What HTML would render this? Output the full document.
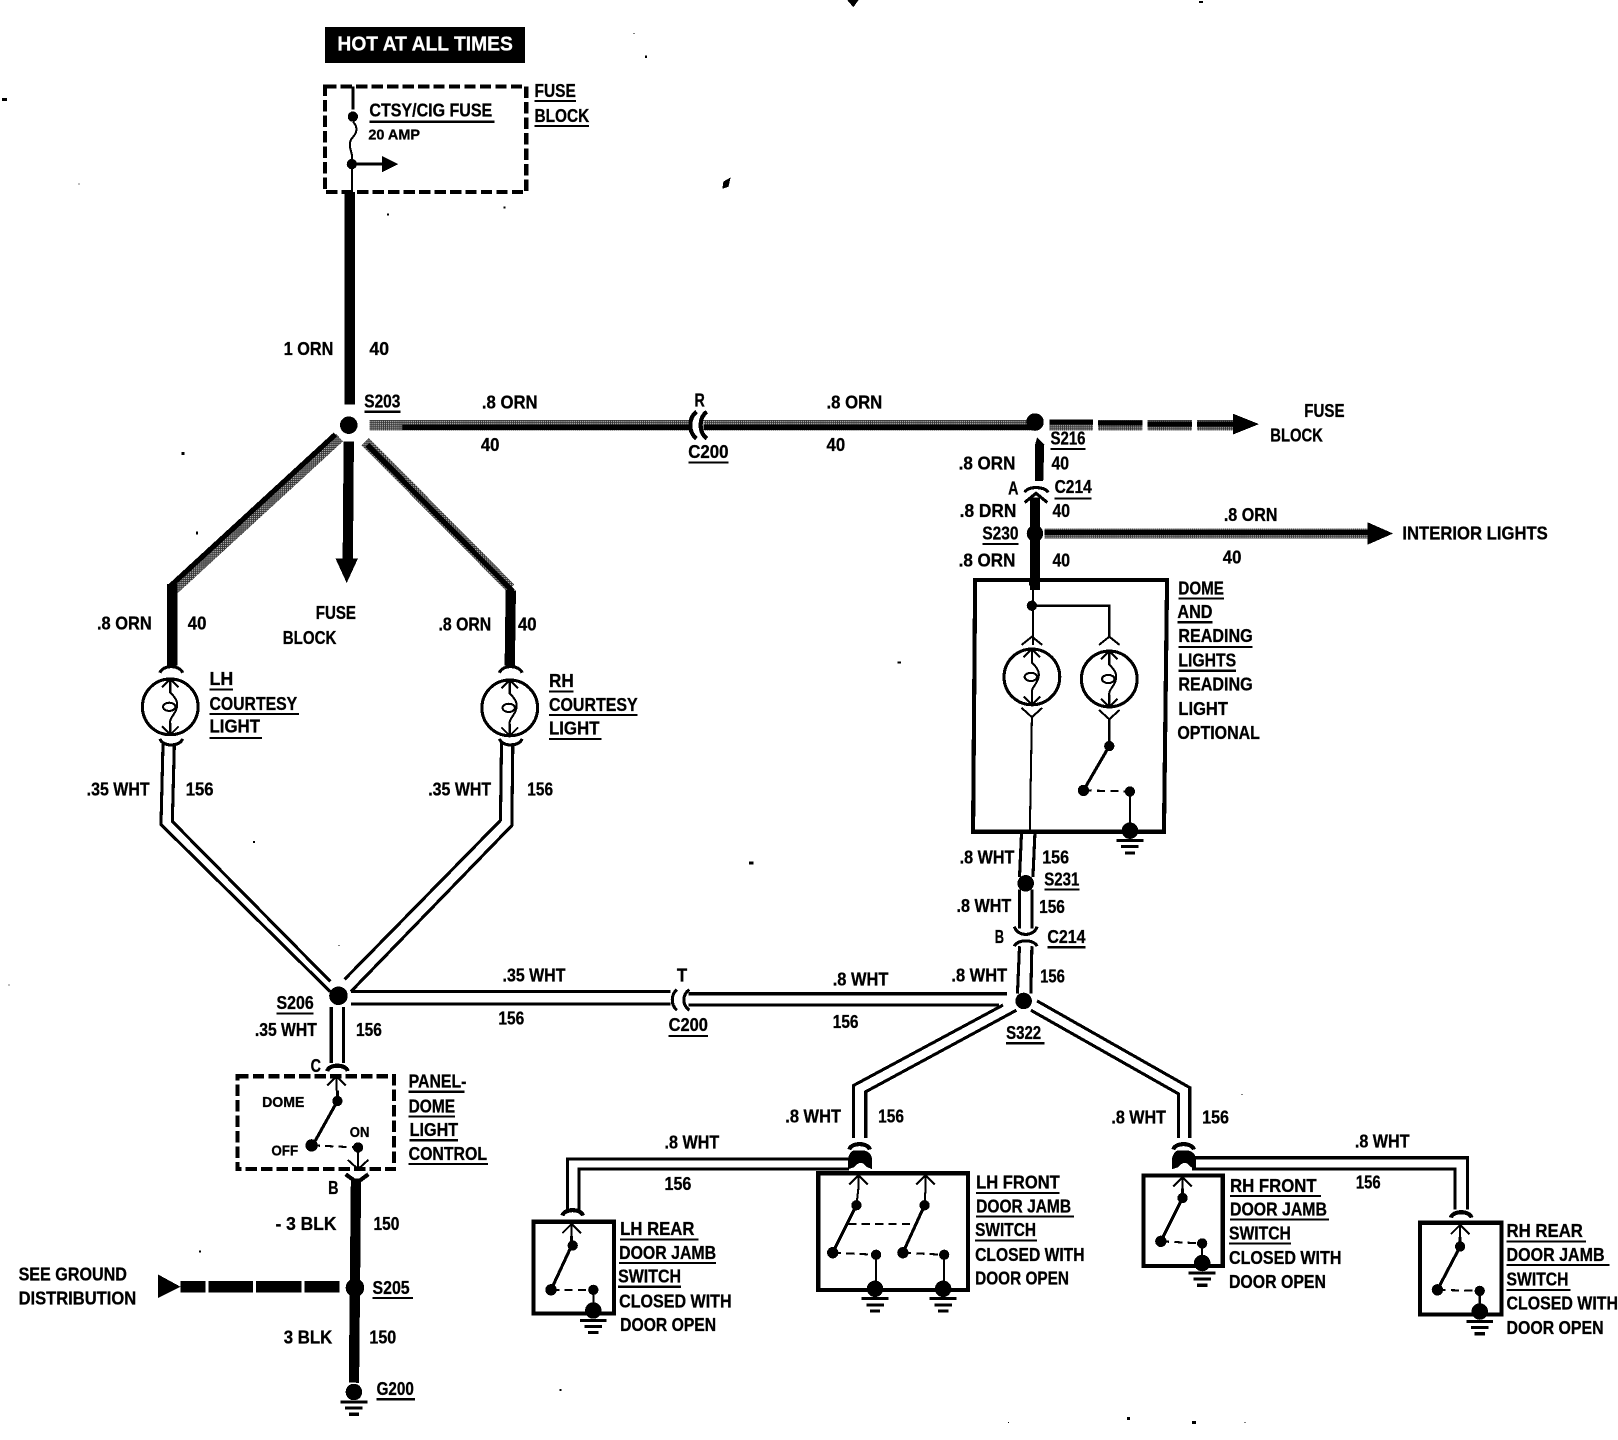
<!DOCTYPE html>
<html><head><meta charset="utf-8"><title>Courtesy and Dome Light Wiring Diagram</title>
<style>
html,body{margin:0;padding:0;background:#fff}
svg{display:block}
text{font-family:"Liberation Sans Narrow","Liberation Sans",sans-serif;font-weight:bold;font-size:17.5px;fill:#000;stroke:#000;stroke-width:.3}
.s{font-size:14.5px}
.t{fill:#fff;stroke:#fff;font-size:20px}
.w{fill:none;stroke:#000;stroke-width:3}
.th{fill:none;stroke:#000;stroke-width:2}
.b{fill:none;stroke:#000;stroke-width:10}
.g{fill:none;stroke:url(#dith);stroke-width:10}
.i{fill:none;stroke:#000;stroke-width:5}
.u{fill:none;stroke:#000;stroke-width:2}
.box{fill:none;stroke:#000;stroke-width:4}
.dash{fill:none;stroke:#000;stroke-width:4;stroke-dasharray:11 4}
</style></head><body>
<svg xmlns="http://www.w3.org/2000/svg" width="1618" height="1440" viewBox="0 0 1568 1395.5" shape-rendering="crispEdges">
<defs>
<pattern id="dith" width="2" height="2" patternUnits="userSpaceOnUse"><rect width="2" height="2" fill="#333"/><rect width="1" height="1" fill="#aaa"/></pattern>
<g id="lamp"><circle r="27" fill="none" stroke="#000" stroke-width="3"/>
<path d="M0-27V-14C6-8 8-4 6 2C4 8-1 11 0 16V27M-8-19L0-27L8-19M-8 19L0 27L8 19" fill="none" stroke="#000" stroke-width="2"/>
<ellipse cx="-1" cy="0" rx="6" ry="4" fill="none" stroke="#000" stroke-width="2"/></g>
<g id="gnd"><circle r="8"/><path d="M-13 9.5H13M-8.5 15.5H8.5M-5 21.5H5" stroke="#000" stroke-width="3" fill="none"/></g>
<path id="up" d="M0 14V0M-9 9L0 0L9 9" fill="none" stroke="#000" stroke-width="2"/>
<path id="cap" d="M-10 6C-8-1 8-1 10 6" fill="none" stroke="#000" stroke-width="4"/>
</defs>
<rect width="1568" height="1396" fill="#fff"/>

<!-- header -->
<rect x="315" y="26" width="194" height="35" fill="#000"/>
<text class="t" x="327" y="49" textLength="170" lengthAdjust="spacingAndGlyphs">HOT AT ALL TIMES</text>

<!-- fuse box -->
<rect class="dash" x="315" y="84" width="195" height="102"/>
<path class="w" d="M342 84V106"/>
<circle cx="342" cy="113" r="5"/><circle cx="341" cy="159" r="5"/>
<path class="th" d="M342 118C348 124 345 130 341 134C337 140 340 144 341 150V186"/>
<path class="w" d="M341 159H372"/><path d="M370 151L386 159L370 167Z"/>

<!-- main hot wires -->
<path class="b" d="M339 186V392"/>
<circle cx="338" cy="412" r="8.5"/>
<path class="g" d="M358 412H668M682 412H1000"/><path class="i" d="M390 414H668M682 414H1000"/>
<path d="M675 399C667 405 667 419 675 425M685 399C677 405 677 419 685 425" stroke="#000" stroke-width="4" fill="none"/>
<circle cx="1003" cy="409" r="8.5"/>
<path class="g" d="M1017 412H1059M1064 412H1107M1112 412H1155M1160 412H1198"/>
<path class="i" d="M1017 409H1059M1064 410H1107M1112 411H1155M1160 411H1198"/>
<path d="M1195 401L1220 411L1195 421Z"/>

<!-- S216 down -->
<path d="M1005 424L1012 431L1011 466H1003L1003 431Z"/>
<path d="M993 477C997 471 1011 471 1016 477" fill="none" stroke="#000" stroke-width="3"/>
<path d="M993 487L1004 478L1015 487" fill="none" stroke="#000" stroke-width="3"/>
<path class="b" d="M1003 482V572"/>
<circle cx="1003" cy="517" r="8"/>
<path class="g" d="M1012 517H1328"/><path class="i" d="M1012 516H1328"/>
<path d="M1325 506L1350 517L1325 528Z"/>

<!-- dome box -->
<path class="box" d="M945 562H1131L1128 806H943Z"/>
<circle cx="1002" cy="565" r="5"/>
<path class="th" d="M1001 570V625M1000 587H1075V618"/>
<circle cx="1000" cy="587" r="5"/>
<path class="th" d="M990 625L1000 617L1010 625M1065 625L1075 617L1085 625"/>
<use href="#lamp" x="1000" y="656"/>
<use href="#lamp" x="1075" y="658"/>
<path class="th" d="M990 686L1000 695L1010 686M1065 688L1075 697L1085 688"/>
<path class="th" d="M1000 695L998 806M1075 697V723M1095 767V800"/>
<circle cx="1075" cy="723" r="5"/>
<path class="w" d="M1075 723L1050 766"/>
<circle cx="1050" cy="766" r="5.5"/>
<path class="th" stroke-dasharray="8 5" d="M1050 766L1095 767"/>
<circle cx="1095" cy="767" r="5"/>
<use href="#gnd" x="1095" y="805"/>

<!-- S231, C214 B -->
<path class="w" d="M990 806L988 850M1003 806L1001 850"/>
<circle cx="994" cy="856" r="8"/>
<path class="w" d="M988 862L988 900M1000 862V900"/>
<path d="M983 898C986 908 1002 908 1005 898" fill="none" stroke="#000" stroke-width="3"/>
<path d="M983 917C986 910 1002 910 1005 917" fill="none" stroke="#000" stroke-width="3"/>
<path class="w" d="M988 917L986 963M1000 917L999 963"/>
<circle cx="992" cy="970" r="8"/>

<!-- hot diagonals -->
<path class="g" d="M169 571L329 424M495 570L354 428"/>
<path class="i" d="M165 568L325 421M497 573L356 431"/>
<path class="b" d="M167 566V645M495 572L494 645M338 428L337 545"/>
<path d="M325 541H347L336 565Z"/>
<path d="M155 652C158 644 174 644 177 652M484 652C487 644 503 644 506 652" fill="none" stroke="#000" stroke-width="3"/>
<use href="#lamp" x="165" y="685"/>
<use href="#lamp" x="494" y="686"/>
<path d="M155 716C158 724 174 724 177 716M484 716C487 724 503 724 506 716" fill="none" stroke="#000" stroke-width="3"/>

<!-- white diagonals -->
<path class="w" d="M158 720L156 799L320 961M169 720L167 796L320 951M486 720L485 795L334 949M497 720L496 800L340 961"/>
<circle cx="328" cy="965" r="9"/>
<path class="w" d="M321 976V1030M333 976V1030"/>
<use href="#cap" x="327" y="1032"/>

<!-- horizontal white -->
<path class="w" d="M340 961H650M340 973H650M667 963H976M667 974H968"/>
<path d="M656 959C650 964 650 974 656 979M668 959C661 964 661 974 668 979" fill="none" stroke="#000" stroke-width="3"/>

<!-- panel dome switch -->
<rect class="dash" x="230" y="1043" width="152" height="90"/>
<use href="#up" x="326" y="1043"/>
<circle cx="327" cy="1067" r="5"/>
<path class="w" d="M327 1057V1067L303 1110"/>
<circle cx="302" cy="1110" r="6"/>
<path class="th" stroke-dasharray="8 5" d="M302 1110L347 1112"/>
<circle cx="347" cy="1112" r="5"/>
<path class="th" d="M347 1112V1133M337 1124L347 1133L357 1124"/>
<path d="M335 1138L346 1146L357 1138" fill="none" stroke="#000" stroke-width="4"/>
<path class="b" d="M345 1142L343 1340"/>
<circle cx="344" cy="1248" r="9"/>
<path d="M175 1247H199M202 1247H245M248 1247H292M295 1247H329" stroke="#000" stroke-width="11" fill="none"/>
<path d="M153 1235L175 1247L153 1258Z"/>
<use href="#gnd" x="343" y="1349"/>

<!-- right bottom branches -->
<path class="w" d="M972 974L827 1052V1103M985 979L839 1058V1103"/>
<path class="w" d="M1005 970L1153 1054V1103M999 979L1142 1060V1103"/>
<use href="#cap" x="833" y="1108"/><use href="#cap" x="1147" y="1108"/>
<path d="M822 1133V1122Q824 1115 828 1115H838Q844 1117 845 1122V1133L840 1131Q834 1123 828 1131ZM1136 1133V1122Q1138 1115 1142 1115H1152Q1158 1117 1159 1122V1133L1154 1131Q1148 1123 1142 1131Z"/>
<path class="w" d="M823 1123H550V1172M823 1133H561V1172"/>
<use href="#cap" x="555" y="1172"/>
<path class="w" d="M1155 1122H1422V1172M1155 1133H1410V1172"/>
<use href="#cap" x="1416" y="1174"/>

<!-- LH rear -->
<rect class="box" x="517" y="1184" width="78" height="89"/>
<use href="#up" x="554" y="1186"/>
<circle cx="555" cy="1207" r="5"/>
<path class="w" d="M554 1198V1207L534 1250"/>
<circle cx="534" cy="1250" r="5.5"/>
<path class="th" stroke-dasharray="8 5" d="M534 1250H575"/>
<circle cx="575" cy="1250" r="5"/>
<path class="th" d="M575 1250V1265"/>
<use href="#gnd" x="575" y="1270"/>

<!-- LH front -->
<rect class="box" x="793" y="1137" width="145" height="113"/>
<use href="#up" x="832" y="1139"/><use href="#up" x="897" y="1139"/>
<path class="th" d="M832 1150L830 1168M897 1150L896 1168"/>
<circle cx="830" cy="1168" r="5"/><circle cx="896" cy="1168" r="5"/>
<path class="w" d="M830 1168L807 1214M896 1168L875 1214"/>
<circle cx="807" cy="1214" r="5.5"/><circle cx="875" cy="1214" r="5.5"/>
<path class="th" stroke-dasharray="8 5" d="M822 1186H887M807 1214L849 1216M875 1214L915 1216"/>
<circle cx="849" cy="1216" r="5"/><circle cx="915" cy="1216" r="5"/>
<path class="th" d="M849 1216V1242M915 1216V1242"/>
<use href="#gnd" x="848" y="1249"/><use href="#gnd" x="914" y="1249"/>

<!-- RH front -->
<rect class="box" x="1108" y="1139" width="77" height="88"/>
<use href="#up" x="1146" y="1141"/>
<circle cx="1146" cy="1161" r="5"/>
<path class="w" d="M1146 1152V1161L1125 1203"/>
<circle cx="1125" cy="1203" r="5.5"/>
<path class="th" stroke-dasharray="8 5" d="M1125 1203L1165 1205"/>
<circle cx="1165" cy="1205" r="5"/>
<path class="th" d="M1165 1205V1218"/>
<use href="#gnd" x="1165" y="1224"/>

<!-- RH rear -->
<rect class="box" x="1376" y="1185" width="79" height="89"/>
<use href="#up" x="1415" y="1187"/>
<circle cx="1415" cy="1208" r="5"/>
<path class="w" d="M1415 1199V1208L1393 1250"/>
<circle cx="1393" cy="1250" r="5.5"/>
<path class="th" stroke-dasharray="8 5" d="M1393 1250L1434 1251"/>
<circle cx="1434" cy="1251" r="5"/>
<path class="th" d="M1434 1251V1266"/>
<use href="#gnd" x="1434" y="1271"/>

<!-- underlines -->
<path class="u" d="M518 98H558M518 122H571M358 118H479M353 399H388M667 448H706M1018 435H1052M1022 483H1058M952 527H987M1142 580H1186M1141 603H1175M1142 627H1214M1142 650H1198M203 668H226M203 692H290M203 715H254M532 670H556M532 693H618M532 716H583M1012 862H1046M1015 918H1052M648 1004H686M268 982H304M975 1011H1012M396 1058H450M396 1082H441M397 1105H444M396 1128H473M361 1258H400M365 1356H402M601 1201H677M600 1224H694M599 1247H660M946 1156H1027M946 1179H1041M945 1202H1005M1192 1159H1280M1192 1182H1288M1191 1205H1251M1460 1203H1537M1460 1226H1560M1460 1250H1522"/>

<!-- labels -->
<g>
<text x="518" y="94" textLength="40" lengthAdjust="spacingAndGlyphs">FUSE</text>
<text x="518" y="118" textLength="53" lengthAdjust="spacingAndGlyphs">BLOCK</text>
<text x="358" y="113" textLength="119" lengthAdjust="spacingAndGlyphs">CTSY/CIG FUSE</text>
<text class="s" x="357" y="135" textLength="50" lengthAdjust="spacingAndGlyphs">20 AMP</text>
<text x="275" y="344" textLength="48" lengthAdjust="spacingAndGlyphs">1 ORN</text>
<text x="358" y="344" textLength="19" lengthAdjust="spacingAndGlyphs">40</text>
<text x="353" y="395" textLength="35" lengthAdjust="spacingAndGlyphs">S203</text>
<text x="467" y="396" textLength="54" lengthAdjust="spacingAndGlyphs">.8 ORN</text>
<text x="466" y="437" textLength="18" lengthAdjust="spacingAndGlyphs">40</text>
<text x="673" y="394" textLength="10" lengthAdjust="spacingAndGlyphs">R</text>
<text x="667" y="444" textLength="39" lengthAdjust="spacingAndGlyphs">C200</text>
<text x="801" y="396" textLength="54" lengthAdjust="spacingAndGlyphs">.8 ORN</text>
<text x="801" y="437" textLength="18" lengthAdjust="spacingAndGlyphs">40</text>
<text x="1264" y="404" textLength="39" lengthAdjust="spacingAndGlyphs">FUSE</text>
<text x="1231" y="428" textLength="51" lengthAdjust="spacingAndGlyphs">BLOCK</text>
<text x="1018" y="431" textLength="34" lengthAdjust="spacingAndGlyphs">S216</text>
<text x="929" y="455" textLength="55" lengthAdjust="spacingAndGlyphs">.8 ORN</text>
<text x="1019" y="455" textLength="17" lengthAdjust="spacingAndGlyphs">40</text>
<text x="977" y="479" textLength="10" lengthAdjust="spacingAndGlyphs">A</text>
<text x="1022" y="478" textLength="36" lengthAdjust="spacingAndGlyphs">C214</text>
<text x="930" y="501" textLength="55" lengthAdjust="spacingAndGlyphs">.8 DRN</text>
<text x="1020" y="501" textLength="17" lengthAdjust="spacingAndGlyphs">40</text>
<text x="952" y="523" textLength="35" lengthAdjust="spacingAndGlyphs">S230</text>
<text x="929" y="549" textLength="55" lengthAdjust="spacingAndGlyphs">.8 ORN</text>
<text x="1020" y="549" textLength="17" lengthAdjust="spacingAndGlyphs">40</text>
<text x="1186" y="505" textLength="52" lengthAdjust="spacingAndGlyphs">.8 ORN</text>
<text x="1359" y="523" textLength="141" lengthAdjust="spacingAndGlyphs">INTERIOR LIGHTS</text>
<text x="1185" y="546" textLength="18" lengthAdjust="spacingAndGlyphs">40</text>
<text x="1142" y="576" textLength="44" lengthAdjust="spacingAndGlyphs">DOME</text>
<text x="1141" y="599" textLength="34" lengthAdjust="spacingAndGlyphs">AND</text>
<text x="1142" y="622" textLength="72" lengthAdjust="spacingAndGlyphs">READING</text>
<text x="1142" y="646" textLength="56" lengthAdjust="spacingAndGlyphs">LIGHTS</text>
<text x="1142" y="669" textLength="72" lengthAdjust="spacingAndGlyphs">READING</text>
<text x="1142" y="693" textLength="48" lengthAdjust="spacingAndGlyphs">LIGHT</text>
<text x="1141" y="716" textLength="80" lengthAdjust="spacingAndGlyphs">OPTIONAL</text>
<text x="94" y="610" textLength="53" lengthAdjust="spacingAndGlyphs">.8 ORN</text>
<text x="182" y="610" textLength="18" lengthAdjust="spacingAndGlyphs">40</text>
<text x="306" y="600" textLength="39" lengthAdjust="spacingAndGlyphs">FUSE</text>
<text x="274" y="624" textLength="52" lengthAdjust="spacingAndGlyphs">BLOCK</text>
<text x="425" y="611" textLength="51" lengthAdjust="spacingAndGlyphs">.8 ORN</text>
<text x="502" y="611" textLength="18" lengthAdjust="spacingAndGlyphs">40</text>
<text x="203" y="664" textLength="23" lengthAdjust="spacingAndGlyphs">LH</text>
<text x="203" y="688" textLength="85" lengthAdjust="spacingAndGlyphs">COURTESY</text>
<text x="203" y="710" textLength="49" lengthAdjust="spacingAndGlyphs">LIGHT</text>
<text x="532" y="666" textLength="24" lengthAdjust="spacingAndGlyphs">RH</text>
<text x="532" y="689" textLength="86" lengthAdjust="spacingAndGlyphs">COURTESY</text>
<text x="532" y="712" textLength="49" lengthAdjust="spacingAndGlyphs">LIGHT</text>
<text x="84" y="771" textLength="61" lengthAdjust="spacingAndGlyphs">.35 WHT</text>
<text x="180" y="771" textLength="27" lengthAdjust="spacingAndGlyphs">156</text>
<text x="415" y="771" textLength="61" lengthAdjust="spacingAndGlyphs">.35 WHT</text>
<text x="511" y="771" textLength="25" lengthAdjust="spacingAndGlyphs">156</text>
<text x="930" y="837" textLength="53" lengthAdjust="spacingAndGlyphs">.8 WHT</text>
<text x="1010" y="837" textLength="26" lengthAdjust="spacingAndGlyphs">156</text>
<text x="1012" y="858" textLength="34" lengthAdjust="spacingAndGlyphs">S231</text>
<text x="927" y="884" textLength="53" lengthAdjust="spacingAndGlyphs">.8 WHT</text>
<text x="1007" y="885" textLength="25" lengthAdjust="spacingAndGlyphs">156</text>
<text x="964" y="914" textLength="9" lengthAdjust="spacingAndGlyphs">B</text>
<text x="1015" y="914" textLength="37" lengthAdjust="spacingAndGlyphs">C214</text>
<text x="487" y="951" textLength="61" lengthAdjust="spacingAndGlyphs">.35 WHT</text>
<text x="656" y="951" textLength="10" lengthAdjust="spacingAndGlyphs">T</text>
<text x="807" y="955" textLength="54" lengthAdjust="spacingAndGlyphs">.8 WHT</text>
<text x="922" y="951" textLength="54" lengthAdjust="spacingAndGlyphs">.8 WHT</text>
<text x="1008" y="952" textLength="24" lengthAdjust="spacingAndGlyphs">156</text>
<text x="483" y="993" textLength="25" lengthAdjust="spacingAndGlyphs">156</text>
<text x="648" y="999" textLength="38" lengthAdjust="spacingAndGlyphs">C200</text>
<text x="807" y="996" textLength="25" lengthAdjust="spacingAndGlyphs">156</text>
<text x="268" y="978" textLength="36" lengthAdjust="spacingAndGlyphs">S206</text>
<text x="247" y="1004" textLength="60" lengthAdjust="spacingAndGlyphs">.35 WHT</text>
<text x="345" y="1004" textLength="25" lengthAdjust="spacingAndGlyphs">156</text>
<text x="975" y="1007" textLength="34" lengthAdjust="spacingAndGlyphs">S322</text>
<text x="301" y="1039" textLength="10" lengthAdjust="spacingAndGlyphs">C</text>
<text x="396" y="1054" textLength="56" lengthAdjust="spacingAndGlyphs">PANEL-</text>
<text x="396" y="1078" textLength="45" lengthAdjust="spacingAndGlyphs">DOME</text>
<text x="397" y="1101" textLength="47" lengthAdjust="spacingAndGlyphs">LIGHT</text>
<text x="396" y="1124" textLength="76" lengthAdjust="spacingAndGlyphs">CONTROL</text>
<text class="s" x="254" y="1073" textLength="41" lengthAdjust="spacingAndGlyphs">DOME</text>
<text class="s" x="339" y="1102" textLength="19" lengthAdjust="spacingAndGlyphs">ON</text>
<text class="s" x="263" y="1120" textLength="26" lengthAdjust="spacingAndGlyphs">OFF</text>
<text x="318" y="1157" textLength="10" lengthAdjust="spacingAndGlyphs">B</text>
<text x="267" y="1192" textLength="59" lengthAdjust="spacingAndGlyphs">- 3 BLK</text>
<text x="362" y="1192" textLength="25" lengthAdjust="spacingAndGlyphs">150</text>
<text x="18" y="1241" textLength="105" lengthAdjust="spacingAndGlyphs">SEE GROUND</text>
<text x="18" y="1264" textLength="114" lengthAdjust="spacingAndGlyphs">DISTRIBUTION</text>
<text x="361" y="1254" textLength="36" lengthAdjust="spacingAndGlyphs">S205</text>
<text x="275" y="1302" textLength="47" lengthAdjust="spacingAndGlyphs">3 BLK</text>
<text x="358" y="1302" textLength="26" lengthAdjust="spacingAndGlyphs">150</text>
<text x="365" y="1352" textLength="36" lengthAdjust="spacingAndGlyphs">G200</text>
<text x="644" y="1113" textLength="53" lengthAdjust="spacingAndGlyphs">.8 WHT</text>
<text x="644" y="1153" textLength="26" lengthAdjust="spacingAndGlyphs">156</text>
<text x="761" y="1088" textLength="54" lengthAdjust="spacingAndGlyphs">.8 WHT</text>
<text x="851" y="1088" textLength="25" lengthAdjust="spacingAndGlyphs">156</text>
<text x="1077" y="1089" textLength="53" lengthAdjust="spacingAndGlyphs">.8 WHT</text>
<text x="1165" y="1089" textLength="26" lengthAdjust="spacingAndGlyphs">156</text>
<text x="1313" y="1112" textLength="53" lengthAdjust="spacingAndGlyphs">.8 WHT</text>
<text x="1314" y="1152" textLength="24" lengthAdjust="spacingAndGlyphs">156</text>
<text x="601" y="1197" textLength="72" lengthAdjust="spacingAndGlyphs">LH REAR</text>
<text x="600" y="1220" textLength="94" lengthAdjust="spacingAndGlyphs">DOOR JAMB</text>
<text x="599" y="1243" textLength="61" lengthAdjust="spacingAndGlyphs">SWITCH</text>
<text x="600" y="1267" textLength="109" lengthAdjust="spacingAndGlyphs">CLOSED WITH</text>
<text x="601" y="1290" textLength="93" lengthAdjust="spacingAndGlyphs">DOOR OPEN</text>
<text x="946" y="1152" textLength="81" lengthAdjust="spacingAndGlyphs">LH FRONT</text>
<text x="946" y="1175" textLength="92" lengthAdjust="spacingAndGlyphs">DOOR JAMB</text>
<text x="945" y="1198" textLength="59" lengthAdjust="spacingAndGlyphs">SWITCH</text>
<text x="945" y="1222" textLength="106" lengthAdjust="spacingAndGlyphs">CLOSED WITH</text>
<text x="945" y="1245" textLength="91" lengthAdjust="spacingAndGlyphs">DOOR OPEN</text>
<text x="1192" y="1155" textLength="84" lengthAdjust="spacingAndGlyphs">RH FRONT</text>
<text x="1192" y="1178" textLength="94" lengthAdjust="spacingAndGlyphs">DOOR JAMB</text>
<text x="1191" y="1201" textLength="60" lengthAdjust="spacingAndGlyphs">SWITCH</text>
<text x="1191" y="1225" textLength="109" lengthAdjust="spacingAndGlyphs">CLOSED WITH</text>
<text x="1191" y="1248" textLength="94" lengthAdjust="spacingAndGlyphs">DOOR OPEN</text>
<text x="1460" y="1199" textLength="74" lengthAdjust="spacingAndGlyphs">RH REAR</text>
<text x="1460" y="1222" textLength="95" lengthAdjust="spacingAndGlyphs">DOOR JAMB</text>
<text x="1460" y="1246" textLength="60" lengthAdjust="spacingAndGlyphs">SWITCH</text>
<text x="1460" y="1269" textLength="108" lengthAdjust="spacingAndGlyphs">CLOSED WITH</text>
<text x="1460" y="1293" textLength="94" lengthAdjust="spacingAndGlyphs">DOOR OPEN</text>
</g>

<!-- specks -->
<path d="M821 0H832L827 7ZM701 176L708 172L706 181L700 183Z"/>
<rect x="2" y="95" width="5" height="3"/><rect x="176" y="438" width="3" height="3"/><rect x="190" y="515" width="2" height="3"/><rect x="870" y="641" width="3" height="2"/><rect x="726" y="835" width="4" height="3"/><rect x="245" y="815" width="2" height="2"/><rect x="375" y="207" width="2" height="2"/><rect x="488" y="200" width="2" height="2"/><rect x="614" y="32" width="1" height="1"/><rect x="625" y="54" width="2" height="2"/><rect x="76" y="178" width="1" height="1"/><rect x="8" y="954" width="1" height="1"/><rect x="193" y="1212" width="2" height="2"/><rect x="542" y="1346" width="2" height="2"/><rect x="328" y="916" width="1" height="1"/><rect x="1203" y="1060" width="1" height="1"/><rect x="977" y="1378" width="1" height="1"/><rect x="1092" y="1373" width="3" height="3"/><rect x="1155" y="1377" width="4" height="3"/><rect x="1206" y="1378" width="1" height="1"/><rect x="1162" y="1" width="4" height="2"/>
</svg>
</body></html>
